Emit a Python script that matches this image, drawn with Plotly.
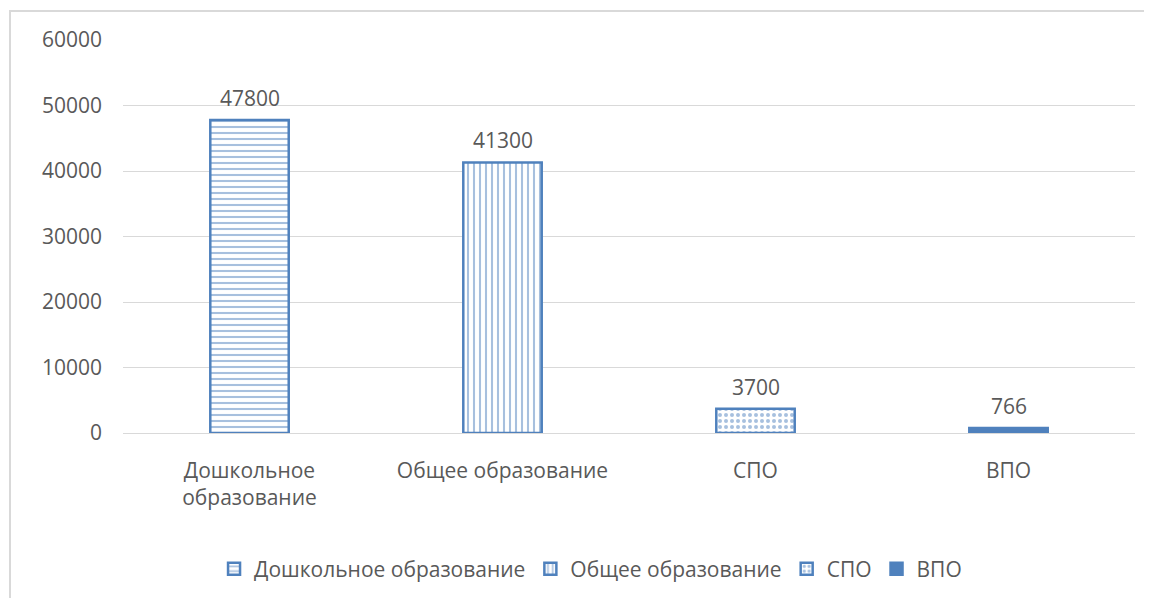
import plotly.graph_objects as go

# Data
categories = ["Дошкольное образование", "Общее образование", "СПО", "ВПО"]
tick_labels = ["Дошкольное<br>образование", "Общее образование", "СПО", "ВПО"]
values = [47800, 41300, 3700, 766]
patterns = ["-", "|", ".", ""]
y_ticks = [0, 10000, 20000, 30000, 40000, 50000, 60000]

BLUE = "#4F81BD"
GREY_TEXT = "#595959"
GRID = "#D9D9D9"

# page has an 8px body margin, so the figure is drawn slightly smaller
W, H = 1144, 590
L, R, T, B = 115, 17, 32, 165
PW, PH = W - L - R, H - T - B

fig = go.Figure()

for cat, label, val, pat in zip(categories, tick_labels, values, patterns):
    fig.add_trace(
        go.Bar(
            x=[label],
            y=[val],
            name=cat,
            width=0.31,
            marker=dict(
                color="white" if pat else BLUE,
                line=dict(color=BLUE, width=2.5),
                pattern=dict(shape=pat, fgcolor=BLUE, bgcolor="white", size=6, solidity=0.35),
            ),
        )
    )

# value labels above the bars
for label, val in zip(tick_labels, values):
    fig.add_annotation(
        x=label, y=val, text=str(val), showarrow=False,
        yanchor="bottom", yshift=6,
        font=dict(size=21, color=GREY_TEXT),
    )

# chart border
fig.add_shape(
    type="rect", xref="paper", yref="paper",
    x0=(2 - L) / PW, x1=(W + 20 - L) / PW,
    y0=(PH + 40 - H + T) / PH - 1, y1=(PH + T - 3) / PH,
    line=dict(color=GRID, width=2), fillcolor="rgba(0,0,0,0)",
    layer="below",
)

fig.update_layout(
    width=W,
    height=H,
    barmode="overlay",
    font=dict(family="Open Sans, sans-serif", size=21, color=GREY_TEXT),
    plot_bgcolor="white",
    paper_bgcolor="white",
    margin=dict(l=L, r=R, t=T, b=B),
    showlegend=True,
    legend=dict(
        orientation="h", x=0.462, xanchor="center",
        yref="container", y=0.049, yanchor="middle",
        font=dict(size=21, color=GREY_TEXT),
    ),
    xaxis=dict(showgrid=False, showline=False, ticks="", ticklabelstandoff=23,
               tickfont=dict(size=21), automargin=False),
    yaxis=dict(
        range=[0, 60000], tickvals=y_ticks, ticktext=[str(v) for v in y_ticks],
        showgrid=True, gridcolor=GRID, automargin=False,
        gridwidth=1, zeroline=True, zerolinecolor=GRID, zerolinewidth=1,
        ticks="", ticklabelstandoff=20, tickfont=dict(size=21),
    ),
)

fig.write_html("out.html")
